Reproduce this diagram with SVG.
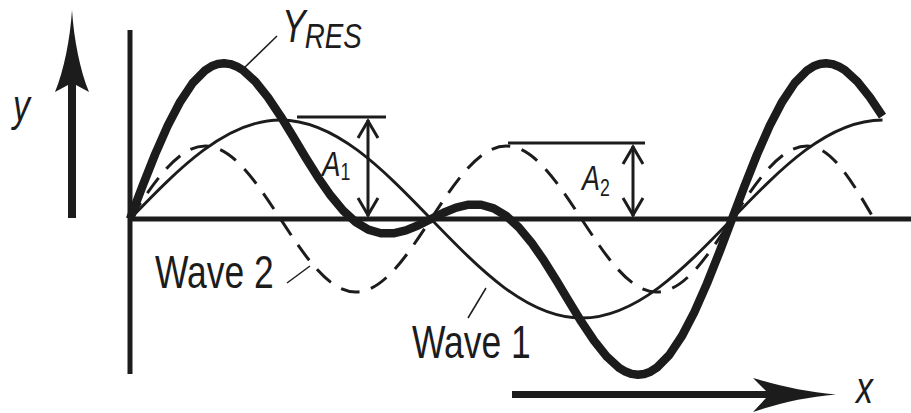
<svg xmlns="http://www.w3.org/2000/svg" width="911" height="413" viewBox="0 0 911 413">
<style>
.lbl{font-family:"Liberation Sans",Arial,sans-serif;fill:#1c1c1c}
.it{font-style:italic}
.axis{stroke:#1c1c1c;stroke-width:5;fill:none}
.w1{stroke:#1c1c1c;stroke-width:2.8;fill:none}
.w2{stroke:#1c1c1c;stroke-width:3;fill:none;stroke-dasharray:19 12}
.res{stroke:#1c1c1c;stroke-width:8.5;fill:none;stroke-linejoin:round}
.dim{stroke:#1c1c1c;stroke-width:3;fill:none}
.lead{stroke:#1c1c1c;stroke-width:1.5;fill:none}
.arr{fill:#1c1c1c}
</style>
<rect width="911" height="413" fill="#ffffff"/>
<g id="axes">
  <line class="axis" x1="130" y1="30" x2="130" y2="374"/>
  <line class="axis" x1="128" y1="219" x2="911" y2="219"/>
</g>
<g id="y-arrow">
  <path class="arr" d="M72,10 C74,40 80,70 89,92 L76,85 L76,218 L68,218 L68,85 L55,92 C64,70 70,40 72,10 Z"/>
  <text class="lbl it" font-size="44" transform="translate(13,121) scale(0.77,1)">y</text>
</g>
<g id="x-arrow">
  <path class="arr" d="M836,394.5 C806,392 780,386 753,378 L766,391 L512,391 L512,398 L766,398 L753,412 C780,403 806,397 836,394.5 Z"/>
  <text class="lbl it" font-size="44" transform="translate(856,403) scale(0.77,1)">x</text>
</g>
<g id="wave1">
  <path class="w1" d="M130,219 C179.08,168.28 226.03,120 280.5,120 C334.97,120 381.92,168.28 431,219 C480.08,269.72 527.03,318 581.5,318 C635.97,318 682.92,269.72 732,219 C781.08,168.28 828.03,120 882.5,120"/>
</g>
<g id="wave2">
  <path class="w2" d="M130,219 C154.54,181.6 178.02,146 205.25,146 C232.48,146 255.96,181.6 280.5,219 C305.04,256.4 328.52,292 355.75,292 C382.98,292 406.46,256.4 431,219 C455.54,181.6 479.02,146 506.25,146 C533.48,146 556.96,181.6 581.5,219 C606.04,256.4 629.52,292 656.75,292 C683.98,292 707.46,256.4 732,219 C756.54,181.6 780.02,146 807.25,146 C831.4,146 852.2,181.6 874,219"/>
</g>
<g id="yres">
  <polyline class="res" points="130,219 142.54,185.92 155.08,154.40 167.63,125.91 180.17,101.77 192.71,82.99 205.25,70.28 211.52,66.33 217.79,63.98 224.06,63.25 230.33,64.09 236.60,66.42 242.88,70.19 255.42,81.60 267.96,97.28 280.5,116.04 293.04,136.57 305.58,157.52 318.13,177.56 330.67,195.59 343.21,210.64 355.75,222.12 368.29,229.65 380.83,233.27 393.38,233.28 405.92,230.32 418.46,225.21 431,219 443.54,212.79 456.08,207.68 468.63,204.72 481.17,204.73 493.71,208.35 506.25,215.88 518.79,227.36 531.33,242.41 543.88,260.44 556.42,280.48 568.96,301.43 581.5,321.96 594.04,340.72 606.58,356.40 619.13,367.81 625.40,371.58 631.67,373.91 637.94,374.75 644.21,374.02 650.48,371.67 656.75,367.72 669.29,355.01 681.83,336.23 694.38,312.09 706.92,283.60 719.46,252.08 732,219 744.54,185.92 757.08,154.40 769.63,125.91 782.17,101.77 794.71,82.99 807.25,70.28 813.52,66.33 819.79,63.98 826.06,63.25 832.33,64.09 838.60,66.42 844.88,70.19 857.42,81.60 869.96,97.28 882.5,116.04"/>
</g>
<g id="a1">
  <line class="dim" x1="297" y1="117" x2="386" y2="117"/>
  <line class="dim" x1="368" y1="120" x2="368" y2="216"/>
  <polyline class="dim" points="358,138 368,121 378,138"/>
  <polyline class="dim" points="358,198 368,215 378,198"/>
  <text class="lbl" transform="translate(322,176) scale(0.77,1)"><tspan class="it" font-size="36">A</tspan><tspan font-size="23" dy="4">1</tspan></text>
</g>
<g id="a2">
  <line class="dim" x1="508" y1="143" x2="645" y2="143"/>
  <line class="dim" x1="633" y1="146" x2="633" y2="216"/>
  <polyline class="dim" points="623,164 633,147 643,164"/>
  <polyline class="dim" points="623,198 633,215 643,198"/>
  <text class="lbl" transform="translate(582,190) scale(0.77,1)"><tspan class="it" font-size="35">A</tspan><tspan font-size="23" dy="6">2</tspan></text>
</g>
<g id="connectors">
  <line class="lead" x1="277" y1="36" x2="242" y2="70"/>
  <line class="lead" x1="287" y1="283" x2="310" y2="266"/>
  <line class="lead" x1="468" y1="318" x2="486" y2="288"/>
</g>
<g id="label-yres">
  <text class="lbl it" transform="translate(282,42) scale(0.77,1)"><tspan font-size="46">Y</tspan><tspan font-size="36" dx="-1" dy="6">RES</tspan></text>
</g>
<g id="label-wave2">
  <text class="lbl" font-size="46" transform="translate(155,288) scale(0.77,1)">Wave 2</text>
</g>
<g id="label-wave1">
  <text class="lbl" font-size="46" transform="translate(412,358) scale(0.77,1)">Wave 1</text>
</g>
</svg>
